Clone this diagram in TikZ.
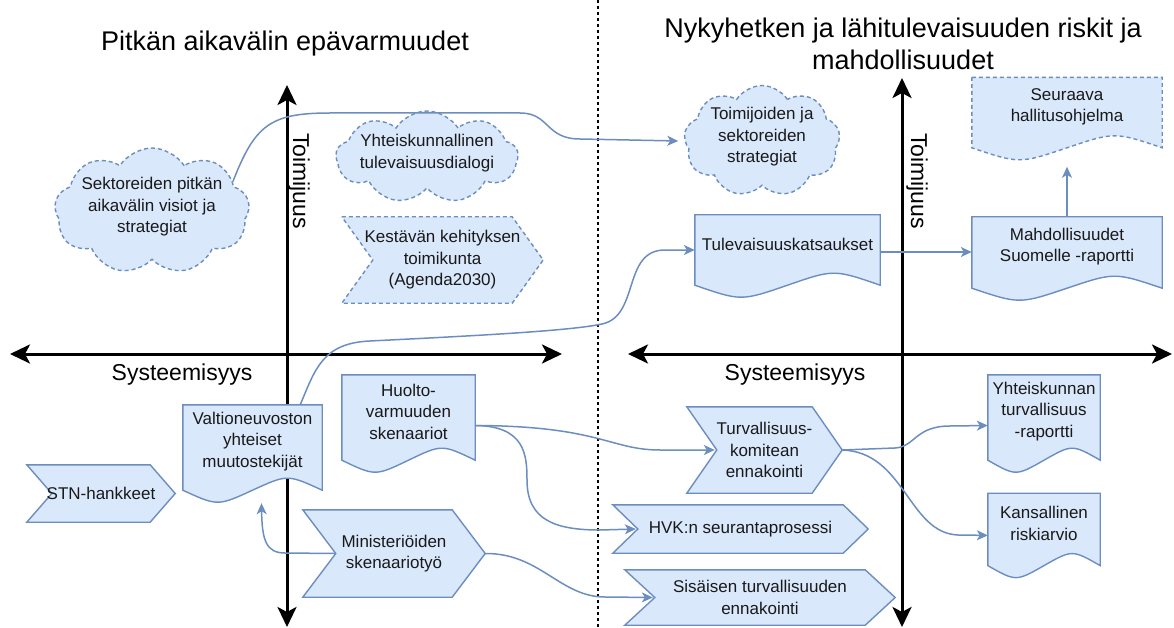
\documentclass[tikz,border=0pt]{standalone}
\usepackage{fontspec}
\setmainfont{Liberation Sans}
\usetikzlibrary{arrows.meta,backgrounds,calc,positioning,shapes.symbols}
\definecolor{figfill}{HTML}{DAE8FC}
\definecolor{figline}{HTML}{6C8EBF}
\def\figfont{\fontsize{17pt}{21.5pt}\selectfont}
\def\figtitlefont{\fontsize{27pt}{32pt}\selectfont}
\def\figaxisfont{\fontsize{23pt}{27pt}\selectfont}
\def\figdocdrop{12pt}
\def\figdocwave{16pt}
% step outline round a named node: #2 node, #3 notch depth
\newcommand\figstep[3][]{%
  \draw[shapeline,#1] (#2.north west) -- ([xshift=-#3]#2.north east) -- (#2.east)
    -- ([xshift=-#3]#2.south east) -- (#2.south west) -- ([xshift=#3]#2.west) -- cycle;}
% document outline round a named node, wavy bottom
\newcommand\figdoc[2][]{%
  \draw[shapeline,#1] (#2.north west) -- (#2.north east) -- ([yshift=-\figdocdrop]#2.south east)
    .. controls ($(#2.south east)!.5!(#2.south)+(0,{\figdocwave-\figdocdrop})$) .. ([yshift=-\figdocdrop]#2.south)
    .. controls ($(#2.south)!.5!(#2.south west)-(0,{\figdocwave+\figdocdrop})$) .. ([yshift=-\figdocdrop]#2.south west) -- cycle;}

\begin{document}
\begin{tikzpicture}[
  x=1pt,y=1pt,
  txt/.style={font=\figfont,align=center,inner sep=0pt,text=black!90},
  stepbox/.style={txt},
  docbox/.style={txt},
  shapeline/.style={draw=figline,fill=figfill,line width=1.4pt},
  dashline/.style={dash pattern=on 4pt off 3pt},
  cloudbox/.style={shapeline,dashline,cloud,cloud puffs=9,cloud puff arc=115,cloud ignores aspect},
  flow/.style={draw=figline,line width=1.5pt,-{Stealth[length=11pt,width=10pt,inset=3pt]}},
  axis/.style={line width=3pt,{Stealth[length=20pt,width=19pt,inset=5pt]}-{Stealth[length=20pt,width=19pt,inset=5pt]}},
  title/.style={font=\figtitlefont,align=center},
  axislabel/.style={font=\figaxisfont},
]
\useasboundingbox (0,0) rectangle (1174,-628);

%%%%%%%%%%%%%%%
% Axes
%%%%%%%%%%%%%%%
\begin{scope}[on background layer]
\draw[axis] (10,-354) -- (562,-354);
\draw[axis] (287,-85) -- (287,-627);
\draw[axis] (628,-354) -- (1172,-354);
\draw[axis] (902,-78) -- (902,-627);
\draw[line width=2pt,dash pattern=on 3pt off 3pt] (598,0) -- (598,-628);
\end{scope}

\node (tl) [title] at (285,-44) {Pitkän aikavälin epävarmuudet};
\node (tr) [title] at (903,-44) {Nykyhetken ja lähitulevaisuuden riskit ja\\mahdollisuudet};
\node (xl) [axislabel] at (182,-375) {Systeemisyys};
\node (xr) [axislabel] at (795,-375) {Systeemisyys};
\node (yl) [axislabel,rotate=-90] at (299,-181) {Toimijuus};
\node (yr) [axislabel,rotate=-90] at (917,-181) {Toimijuus};

%%%%%%%%%%%%%%%
% Left Part
%%%%%%%%%%%%%%%
\node (lt1) [txt] at (152,-207) {Sektoreiden pitkän\\aikavälin visiot ja\\strategiat};
\node (lt2) [txt] at (427,-153) {Yhteiskunnallinen\\tulevaisuusdialogi};
\node (lt3) [stepbox,minimum width=201pt,minimum height=86pt] at (442.5,-260) {Kestävän kehityksen\\toimikunta\\(Agenda2030)};

\node (lb1) [stepbox,minimum width=148pt,minimum height=57pt] at (101,-493.5) {STN-hankkeet};
\node (lb2) [docbox,minimum width=139pt,minimum height=73pt] at (252.5,-441.5) {Valtioneuvoston\\yhteiset\\muutostekijät};
\node (lb3) [docbox,minimum width=133pt,minimum height=73pt] at (408.5,-411.5) {Huolto-\\varmuuden\\skenaariot};
\node (lb4) [stepbox,minimum width=182pt,minimum height=87pt] at (394,-553.5) {Ministeriöiden\\skenaariotyö};

%%%%%%%%%%%%%%%
% Right Part
%%%%%%%%%%%%%%%
\node (rt1) [txt] at (762,-137) {Toimijoiden ja\\sektoreiden\\strategiat};
\node (rt2) [docbox,minimum width=185pt,minimum height=58pt] at (787.5,-244) {Tulevaisuuskatsaukset};
\node (rt3) [docbox,minimum width=190pt,minimum height=59pt] at (1067,-246.5) {Mahdollisuudet\\Suomelle -raportti};
\node (rt4) [docbox,minimum width=190pt,minimum height=58pt,above=81pt of rt3] {Seuraava\\hallitusohjelma};

\node (rb1) [stepbox,minimum width=155pt,minimum height=86pt] at (764.5,-450) {Turvallisuus-\\komitean\\ennakointi};
\node (rb2) [stepbox,minimum width=255pt,minimum height=48pt] at (740.5,-529) {HVK:n seurantaprosessi};
\node (rb3) [stepbox,minimum width=270pt,minimum height=55pt] at (760,-597.5) {Sisäisen turvallisuuden\\ennakointi};
\node (rb4) [docbox,minimum width=112pt,minimum height=73pt] at (1044,-411.5) {Yhteiskunnan\\turvallisuus\\-raportti};
\node (rb5) [docbox,minimum width=112pt,minimum height=60pt,below=45pt of rb4] {Kansallinen\\riskiarvio};

%%%%%%%%%%%%%%%
% Shapes
\begin{scope}[on background layer]
\node (c1) [cloudbox,minimum width=195pt,minimum height=126pt] at (152,-211) {};
\node (c2) [cloudbox,minimum width=182pt,minimum height=92pt] at (427,-157) {};
\node (c3) [cloudbox,minimum width=156pt,minimum height=111pt] at (762,-141) {};
\figstep[dashline]{lt3}{31pt}
\figstep{lb1}{25pt}
\figstep{lb4}{33pt}
\figstep{rb1}{30pt}
\figstep{rb2}{25pt}
\figstep{rb3}{30pt}
\foreach \n in {lb2,lb3,rt2,rt3,rb4,rb5}
  \figdoc{\n};
\figdoc[dashline]{rt4}
\end{scope}

%%%%%%%%%%%%%%%
% Connectors
%%%%%%%%%%%%%%%
\draw[flow] (c1.20) .. controls (255,-125) and (270,-113) .. (330,-113) -- (520,-113)
  .. controls (550,-113) and (545,-139) .. (580,-139) -- ([xshift=-6pt]c3.west);
\draw[flow] ([xshift=-22pt]lb2.north east) .. controls (315,-370) and (322,-343) .. (370,-341)
  .. controls (470,-336) and (570,-331) .. (602,-324)
  .. controls (640,-316) and (622,-250) .. (665,-250) -- ([yshift=-6pt]rt2.west);
\draw[flow] ([yshift=-8pt]rt2.east) -- ([yshift=-8pt]rt2.east -| rt3.west);
\draw[flow] (rt3.north) -- ([yshift=-31pt]rt4.south);

\draw[flow] ([yshift=-14pt]lb3.east) .. controls (600,-426) and (610,-450) .. (660,-450) -- ([xshift=28pt]rb1.west);
\draw[flow] ([yshift=-14pt]lb3.east) .. controls (525,-426) and (527,-455) .. (527,-480)
  .. controls (527,-520) and (555,-530) .. (600,-530) -- ([xshift=23pt]rb2.west);
\draw[flow] (lb4.east) .. controls (540,-553) and (560,-597) .. (605,-597) -- ([xshift=28pt]rb3.west);
\draw[flow] ([xshift=32pt]lb4.west) -- (285,-553) .. controls (266,-553) and (262,-540) .. ([xshift=9pt,yshift=-25pt]lb2.south);

\draw[flow] (rb1.east) -- (895,-448) .. controls (915,-447) and (915,-426) .. (950,-426) -- ([yshift=-14pt]rb4.west);
\draw[flow] (rb1.east) .. controls (905,-452) and (908,-533) .. (958,-535) -- ([yshift=-12pt]rb5.west);

\end{tikzpicture}
\end{document}
